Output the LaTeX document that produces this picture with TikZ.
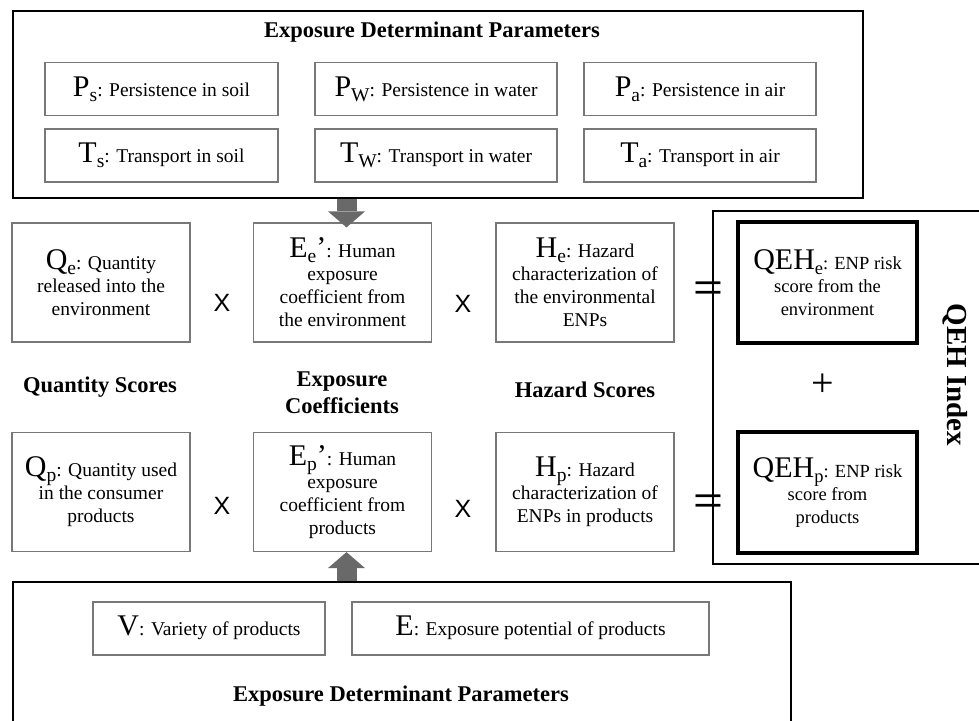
\documentclass[tikz,border=0pt]{standalone}
\usepackage{fontspec}
\setmainfont{Liberation Serif}
\newfontfamily\arialfont{Liberation Sans}
\usetikzlibrary{arrows.meta}

\definecolor{boxgray}{RGB}{120,120,120}
\definecolor{arrowgray}{RGB}{105,105,105}

% big symbol with lowered index
\newcommand{\bigsym}[2]{{\fontsize{30}{30}\selectfont #1}\raisebox{-5pt}{#2}}
\newcommand{\bigmark}{{\fontsize{30}{30}\selectfont ’}}

\begin{document}
\begin{tikzpicture}[x=1pt, y=-1pt,
  outerbox/.style={draw=black, line width=1.5pt, anchor=north west, inner sep=0pt},
  parambox/.style={draw=boxgray, line width=1.2pt, minimum height=53, inner sep=0pt, font=\fontsize{19.5}{22}\selectfont},
  termbox/.style={draw=boxgray, line width=1.2pt, minimum width=178, minimum height=119, inner sep=2pt, align=center, font=\fontsize{19.5}{23}\selectfont},
  riskbox/.style={draw=black, line width=3.5pt, minimum width=179, minimum height=121, inner sep=2pt, align=center, font=\fontsize{18.5}{23}\selectfont},
  grouplabel/.style={font=\fontsize{22.5}{27}\selectfont\bfseries, align=center},
  opsign/.style={font=\arialfont\fontsize{25}{25}\selectfont, inner sep=0pt},
  eqsign/.style={font=\arialfont\fontsize{38}{38}\selectfont, inner sep=0pt, xscale=1.35},
  blockarrow/.style={draw=arrowgray, line width=20pt, -{Triangle[width=37pt, length=16pt, line width=0pt]}}
]

% Frame
\useasboundingbox (0,0) rectangle (979,720);
\clip (0,0) rectangle (979,720);

% Outer boxes
\node[outerbox, minimum width=850, minimum height=187] (toppar) at (12,10) {};
\node[outerbox, minimum width=778, minimum height=150] (botpar) at (12,581) {};
\node[outerbox, minimum width=280, minimum height=353] (qehbox) at (712,210) {};

% Environment parameters
\node[grouplabel] (toptitle) at (432,32) {Exposure Determinant Parameters};
\node[parambox, minimum width=233] (ps) at (161.5,89) {\bigsym{P}{s}: Persistence in soil};
\node[parambox, minimum width=242] (pw) at (436,89) {\bigsym{P}{W}: Persistence in water};
\node[parambox, minimum width=232] (pa) at (700,89) {\bigsym{P}{a}: Persistence in air};
\node[parambox, minimum width=233] (ts) at (161.5,155.5) {\bigsym{T}{s}: Transport in soil};
\node[parambox, minimum width=242] (tw) at (436,155.5) {\bigsym{T}{W}: Transport in water};
\node[parambox, minimum width=232] (ta) at (700,155.5) {\bigsym{T}{a}: Transport in air};

% Environment row
\node[termbox] (qe) at (101,282.5) {\bigsym{Q}{e}: Quantity\\released into the\\environment};
\node[termbox] (ee) at (342.5,282.5) {\bigsym{E}{e}\bigmark: Human\\exposure\\coefficient from\\the environment};
\node[termbox] (he) at (585,282.5) {\bigsym{H}{e}: Hazard\\characterization of\\the environmental\\ENPs};
\node[riskbox] (qehe) at (827.5,282.5) {\bigsym{QEH}{e}: ENP risk\\score from the\\environment};
\node[opsign] (xe1) at (222,303) {X};
\node[opsign] (xe2) at (463,304) {X};
\node[eqsign] (eqe) at (708,291) {=};

% Group labels
\node[grouplabel] (qlabel) at (100,387) {Quantity Scores};
\node[grouplabel] (elabel) at (342,393) {Exposure\\Coefficients};
\node[grouplabel] (hlabel) at (585,390) {Hazard Scores};
\node[font=\fontsize{40}{40}\selectfont, inner sep=0pt] (plus) at (823,385) {+};
\node[font=\fontsize{29}{29}\selectfont\bfseries, rotate=-90] (qehlabel) at (955,375) {QEH Index};

% Product row
\node[termbox] (qp) at (101,492) {\bigsym{Q}{p}: Quantity used\\in the consumer\\products};
\node[termbox] (ep) at (342.5,492) {\bigsym{E}{p}\bigmark: Human\\exposure\\coefficient from\\products};
\node[termbox] (hp) at (585,492) {\bigsym{H}{p}: Hazard\\characterization of\\ENPs in products};
\node[riskbox] (qehp) at (827.5,492.5) {\bigsym{QEH}{p}: ENP risk\\score from\\products};
\node[opsign] (xp1) at (222,506) {X};
\node[opsign] (xp2) at (463,509) {X};
\node[eqsign] (eqp) at (708,504) {=};

% Product parameters
\node[parambox, minimum width=232] (var) at (209,628.5) {\bigsym{V}{}: Variety of products};
\node[parambox, minimum width=357] (expo) at (530.5,628.5) {\bigsym{E}{}: Exposure potential of products};
\node[grouplabel] (bottitle) at (401,696) {Exposure Determinant Parameters};

% Block arrows
\draw[blockarrow] ([xshift=4pt]ee.north |- toppar.south) -- ([xshift=4pt,yshift=-5pt]ee.north);
\draw[blockarrow] ([xshift=4pt]ep.south |- botpar.north) -- ([xshift=4pt]ep.south);

\end{tikzpicture}
\end{document}
